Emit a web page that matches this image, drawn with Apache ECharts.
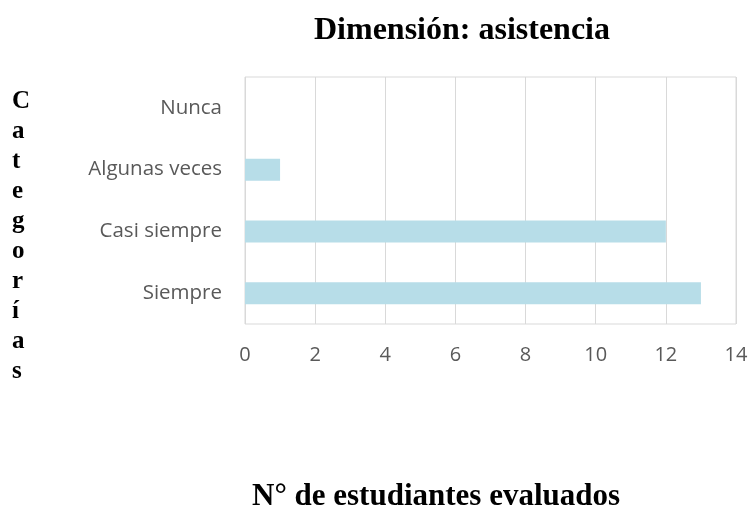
<!DOCTYPE html>
<html>
<head>
<meta charset="utf-8">
<script src="https://cdn.jsdelivr.net/npm/echarts@6/dist/echarts.min.js"></script>
<style>
* { margin: 0; padding: 0; }
html, body { width: 751px; height: 510px; background: #fff; }
#main { width: 751px; height: 510px; }
</style>
</head>
<body>
<!-- contenedor del gráfico -->
<div id="main"></div>
<script>
// datos (de abajo hacia arriba)
var categorias = ['Siempre', 'Casi siempre', 'Algunas veces', 'Nunca'];
var estudiantes = [13, 12, 1, 0];
var ejeX = { min: 0, max: 14, intervalo: 2 };
var titulo = 'Dimensión: asistencia';
var tituloX = 'N° de estudiantes evaluados';
var tituloY = 'Categorías';

var chart = echarts.init(document.getElementById('main'));

chart.setOption({
  animation: false,
  title: {
    text: titulo,
    left: 457,
    top: 10,
    textAlign: 'center',
    textStyle: {
      fontFamily: 'Liberation Serif',
      fontWeight: 'bold',
      fontSize: 32,
      color: '#000'
    }
  },
  grid: {
    left: 245,
    right: 15,
    top: 77,
    bottom: 186,
    show: true,
    borderColor: '#d9d9d9',
    borderWidth: 1
  },
  xAxis: {
    type: 'value',
    min: ejeX.min,
    max: ejeX.max,
    interval: ejeX.intervalo,
    axisLine: { show: false },
    axisTick: { show: false },
    axisLabel: {
      margin: 21,
      fontFamily: 'Open Sans',
      fontSize: 20,
      color: '#595959'
    },
    splitLine: { lineStyle: { color: '#d9d9d9', width: 1 } }
  },
  yAxis: {
    type: 'category',
    data: categorias,
    axisLine: { show: false },
    axisTick: { show: false },
    axisLabel: {
      margin: 23,
      fontFamily: 'Open Sans',
      fontSize: 20.5,
      color: '#595959'
    }
  },
  series: [{
    type: 'bar',
    data: estudiantes,
    barWidth: 22,
    itemStyle: { color: '#b7dde8' }
  }],
  graphic: [
    {
      type: 'text',
      left: 12,
      top: 87,
      style: {
        text: tituloY.split('').join('\n'),
        font: 'bold 25px "Liberation Serif"',
        lineHeight: 30,
        align: 'center',
        fill: '#000'
      }
    },
    {
      type: 'text',
      left: 252,
      top: 481,
      style: {
        text: tituloX,
        font: 'bold 31px "Liberation Serif"',
        fill: '#000'
      }
    }
  ]
});
</script>
</body>
</html>
